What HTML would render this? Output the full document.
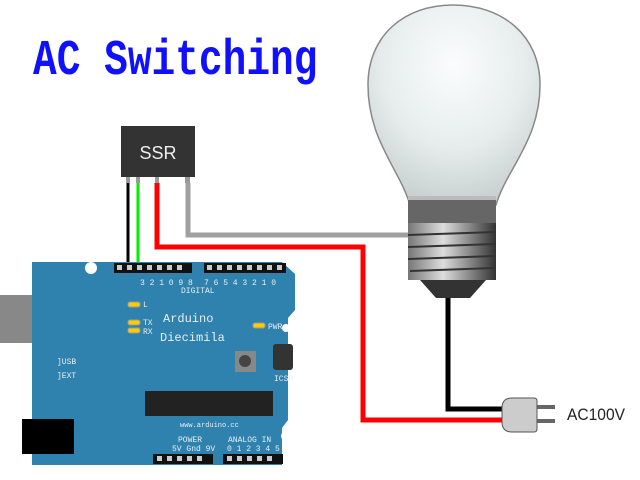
<!DOCTYPE html>
<html><head><style>
body{margin:0;width:640px;height:480px;background:#fff;overflow:hidden;position:relative;font-family:"Liberation Sans",sans-serif}
.t{position:absolute;left:33px;top:33px;font:bold 50px "Liberation Mono",monospace;color:#1010ff;transform:scaleX(0.79);transform-origin:0 0;white-space:nowrap}
</style></head><body>
<div class="t">AC Switching</div>
<svg width="640" height="480" style="position:absolute;left:0;top:0">
<defs>
<radialGradient id="g" cx="0.5" cy="0.3" r="0.7">
<stop offset="0" stop-color="#fbfdfd"/><stop offset="0.6" stop-color="#e6ecec"/><stop offset="1" stop-color="#c9d0d0"/></radialGradient>
<linearGradient id="m" x1="0" x2="1"><stop offset="0" stop-color="#777"/><stop offset="0.4" stop-color="#ddd"/><stop offset="1" stop-color="#333"/></linearGradient>
</defs>
<polyline points="157,183 157,247 363,247 363,420 505,420" fill="none" stroke="#f00" stroke-width="5"/>
<polyline points="188,183 188,235 425,235" fill="none" stroke="#a0a0a0" stroke-width="5"/>
<polyline points="448,298 448,409 505,409" fill="none" stroke="#000" stroke-width="5"/>
<line x1="128" y1="183" x2="128" y2="270" stroke="#000" stroke-width="3"/>
<line x1="138" y1="183" x2="138" y2="270" stroke="#0e0" stroke-width="3"/>
<rect x="121" y="126" width="74" height="51" fill="#333"/>
<text x="158" y="159" fill="#eee" font-size="18" text-anchor="middle">SSR</text>
<rect x="126" y="177" width="4" height="6" fill="#999"/><rect x="136" y="177" width="4" height="6" fill="#999"/>
<rect x="155" y="177" width="4" height="6" fill="#999"/><rect x="185" y="177" width="5" height="6" fill="#999"/>
<path d="M410,205 C400,170 368,140 368,85 C368,35 405,5 453,5 C502,5 540,35 540,85 C540,140 506,170 496,205 Z" fill="url(#g)" stroke="#888" stroke-width="1.5"/>
<rect x="408" y="196" width="88" height="8" fill="#bbb"/>
<rect x="408" y="200" width="88" height="25" fill="#666"/>
<rect x="408" y="223" width="88" height="57" fill="url(#m)"/>
<g stroke="#333" stroke-width="2"><line x1="408" y1="235" x2="496" y2="232"/><line x1="408" y1="247" x2="496" y2="244"/><line x1="408" y1="259" x2="496" y2="256"/><line x1="410" y1="271" x2="494" y2="268"/></g>
<path d="M420,280 L486,280 L470,298 L436,298 Z" fill="#333"/>
<rect x="537" y="405" width="18" height="4" fill="#666"/><rect x="537" y="419" width="18" height="4" fill="#666"/>
<path d="M512,398 L534,398 Q537,398 537,401 L537,429 Q537,432 534,432 L512,432 Q502,432 502,422 L502,408 Q502,398 512,398 Z" fill="#ccc" stroke="#555"/>
<text x="567" y="420" font-size="17" fill="#222" textLength="58" lengthAdjust="spacingAndGlyphs">AC100V</text>
<rect x="0" y="295" width="65" height="48" fill="#888"/>
<path d="M32,262 L282,262 L295,274 L295,310 L288,318 L288,420 L282,428 L282,465 L32,465 Z" fill="#2f82ad"/>
<rect x="22" y="419" width="52" height="35" fill="#000"/>
<rect x="114" y="263" width="78" height="10" fill="#111"/>
<rect x="204" y="263" width="82" height="10" fill="#111"/>
<g fill="#ccc">
<rect x="117" y="265" width="5" height="5"/><rect x="127" y="265" width="5" height="5"/><rect x="137" y="265" width="5" height="5"/><rect x="147" y="265" width="5" height="5"/><rect x="157" y="265" width="5" height="5"/><rect x="167" y="265" width="5" height="5"/><rect x="177" y="265" width="5" height="5"/>
<rect x="207" y="265" width="5" height="5"/><rect x="217" y="265" width="5" height="5"/><rect x="227" y="265" width="5" height="5"/><rect x="237" y="265" width="5" height="5"/><rect x="247" y="265" width="5" height="5"/><rect x="257" y="265" width="5" height="5"/><rect x="267" y="265" width="5" height="5"/><rect x="277" y="265" width="5" height="5"/>
</g>
<rect x="153" y="454" width="60" height="10" fill="#111"/>
<rect x="223" y="454" width="60" height="10" fill="#111"/>
<g fill="#ccc"><rect x="157" y="456" width="5" height="5"/><rect x="167" y="456" width="5" height="5"/><rect x="177" y="456" width="5" height="5"/><rect x="187" y="456" width="5" height="5"/><rect x="197" y="456" width="5" height="5"/>
<rect x="227" y="456" width="5" height="5"/><rect x="237" y="456" width="5" height="5"/><rect x="247" y="456" width="5" height="5"/><rect x="257" y="456" width="5" height="5"/><rect x="267" y="456" width="5" height="5"/></g>
<rect x="145" y="391" width="128" height="25" fill="#222"/>
<rect x="235" y="351" width="21" height="21" fill="#888"/><circle cx="245" cy="361" r="6" fill="#444"/>
<rect x="273" y="344" width="20" height="26" fill="#333" rx="3"/>
<circle cx="91" cy="268" r="6" fill="#fff"/><circle cx="286" cy="328" r="4" fill="#fff"/><circle cx="286" cy="436" r="5" fill="#fff"/>
<g fill="#fc0" stroke="#999"><rect x="128" y="302" width="12" height="5" rx="2"/><rect x="128" y="320" width="12" height="5" rx="2"/><rect x="128" y="328" width="12" height="5" rx="2"/><rect x="253" y="323" width="12" height="5" rx="2"/></g>
<g fill="#e8eef2" font-family="Liberation Mono,monospace">
<text x="163" y="322" font-size="12">Arduino</text>
<text x="160" y="341" font-size="12">Diecimila</text>
<text x="181" y="293" font-size="8">DIGITAL</text>
<text x="143" y="307" font-size="8">L</text><text x="143" y="325" font-size="8">TX</text><text x="143" y="334" font-size="8">RX</text>
<text x="268" y="329" font-size="8">PWR</text>
<text x="57" y="364" font-size="8">]USB</text><text x="57" y="378" font-size="8">]EXT</text>
<text x="274" y="381" font-size="8">ICSP</text>
<text x="180" y="427" font-size="7">www.arduino.cc</text>
<text x="178" y="442" font-size="8">POWER</text><text x="228" y="442" font-size="8">ANALOG IN</text>
<text x="172" y="451" font-size="8">5V Gnd 9V</text><text x="227" y="451" font-size="8">0 1 2 3 4 5</text>
<text x="140" y="285" font-size="8">3 2 1 0 9 8</text><text x="204" y="285" font-size="8">7 6 5 4 3 2 1 0</text>
</g>
</svg>
</body></html>
